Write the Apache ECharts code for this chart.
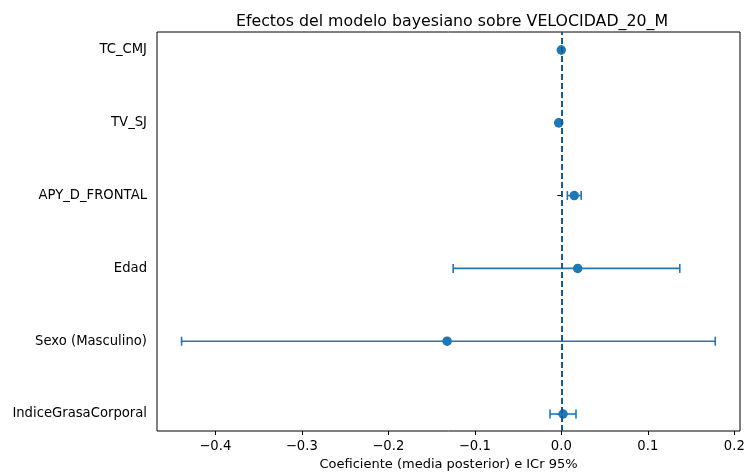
<!DOCTYPE html>
<html>
<head>
<meta charset="utf-8">
<script src="https://cdn.jsdelivr.net/npm/echarts@6/dist/echarts.min.js"></script>
<style>
  html, body { margin: 0; padding: 0; background: #fff; }
  #container { width: 745px; height: 474px; }
</style>
</head>
<body>
<div id="container"></div>
<script>
// variables, de arriba a abajo
var variables = ['TC_CMJ', 'TV_SJ', 'APY_D_FRONTAL', 'Edad', 'Sexo (Masculino)', 'IndiceGrasaCorporal'];
// media posterior
var medias = [0.000, -0.003, 0.015, 0.019, -0.132, 0.002];
// ICr 95%
var icInf = [0.000, -0.003, 0.007, -0.125, -0.439, -0.013];
var icSup = [0.000, -0.003, 0.023, 0.137, 0.178, 0.017];
var xTicks = [-0.4, -0.3, -0.2, -0.1, 0.0, 0.1, 0.2];

var azul = '#1f77b4';
var fuente = 'DejaVu Sans';

var dom = document.getElementById('container');
var myChart = echarts.init(dom);

var barras = [];
var puntos = [];
for (var i = 0; i < variables.length; i++) {
    barras.push([icInf[i], icSup[i], i]);
    puntos.push([medias[i], i]);
}

var option = {
    animation: false,
    title: {
        text: 'Efectos del modelo bayesiano sobre VELOCIDAD_20_M',
        left: 447,
        top: 9,
        textAlign: 'center',
        textStyle: { fontFamily: fuente, fontSize: 15.8, fontWeight: 'normal', color: '#000' }
    },
    grid: [
        // marco
        { left: 157, right: 5, top: 32, bottom: 43, outerBoundsMode: 'none', containLabel: false,
          show: true, borderColor: '#000', borderWidth: 1, backgroundColor: 'transparent' },
        // datos
        { left: 157, right: 5, top: 50, bottom: 60, outerBoundsMode: 'none', containLabel: false }
    ],
    xAxis: [{
        gridIndex: 0,
        type: 'value',
        min: -0.4674,
        max: 0.2066,
        name: 'Coeficiente (media posterior) e ICr 95%',
        nameLocation: 'middle',
        nameGap: 27,
        nameTextStyle: { fontFamily: fuente, fontSize: 13, color: '#000' },
        axisLine: { show: false },
        axisLabel: {
            fontFamily: fuente, fontSize: 13.2, color: '#000', margin: 9,
            customValues: xTicks,
            formatter: function (v) { return (v < 0 ? '\u2212' : '') + Math.abs(v).toFixed(1); }
        },
        axisTick: { show: true, length: 4, lineStyle: { color: '#000' }, customValues: xTicks },
        splitLine: { show: false }
    }, {
        gridIndex: 1,
        type: 'value',
        min: -0.4674,
        max: 0.2066,
        show: false,
        splitLine: { show: false }
    }],
    yAxis: [{
        gridIndex: 0,
        type: 'value',
        show: false,
        splitLine: { show: false }
    }, {
        gridIndex: 1,
        type: 'value',
        min: 0,
        max: 5,
        interval: 1,
        inverse: true,
        axisLine: { show: false },
        axisTick: { show: true, length: 4, lineStyle: { color: '#000' } },
        axisLabel: {
            fontFamily: fuente, fontSize: 13.2, color: '#000', margin: 10,
            formatter: function (v) { return variables[v] || ''; }
        },
        splitLine: { show: false }
    }],
    series: [{
        type: 'custom',
        xAxisIndex: 1,
        yAxisIndex: 1,
        data: barras,
        renderItem: function (params, api) {
            var a = api.coord([api.value(0), api.value(2)]);
            var b = api.coord([api.value(1), api.value(2)]);
            var h = 4.5;
            var st = { stroke: azul, lineWidth: 1.6 };
            return {
                type: 'group',
                children: [
                    { type: 'line', shape: { x1: a[0], y1: a[1], x2: b[0], y2: b[1] }, style: st },
                    { type: 'line', shape: { x1: a[0], y1: a[1] - h, x2: a[0], y2: a[1] + h }, style: st },
                    { type: 'line', shape: { x1: b[0], y1: b[1] - h, x2: b[0], y2: b[1] + h }, style: st }
                ]
            };
        },
        z: 2
    }, {
        type: 'scatter',
        xAxisIndex: 1,
        yAxisIndex: 1,
        data: puntos,
        symbol: 'circle',
        symbolSize: 9.5,
        itemStyle: { color: azul, opacity: 1 },
        z: 3
    }, {
        type: 'line',
        xAxisIndex: 0,
        yAxisIndex: 0,
        data: [],
        markLine: {
            silent: true,
            symbol: 'none',
            label: { show: false },
            lineStyle: { color: '#1a5a90', width: 2, type: [6, 3] },
            data: [{ xAxis: 0 }]
        },
        z: 1
    }]
};

myChart.setOption(option);
</script>
</body>
</html>
